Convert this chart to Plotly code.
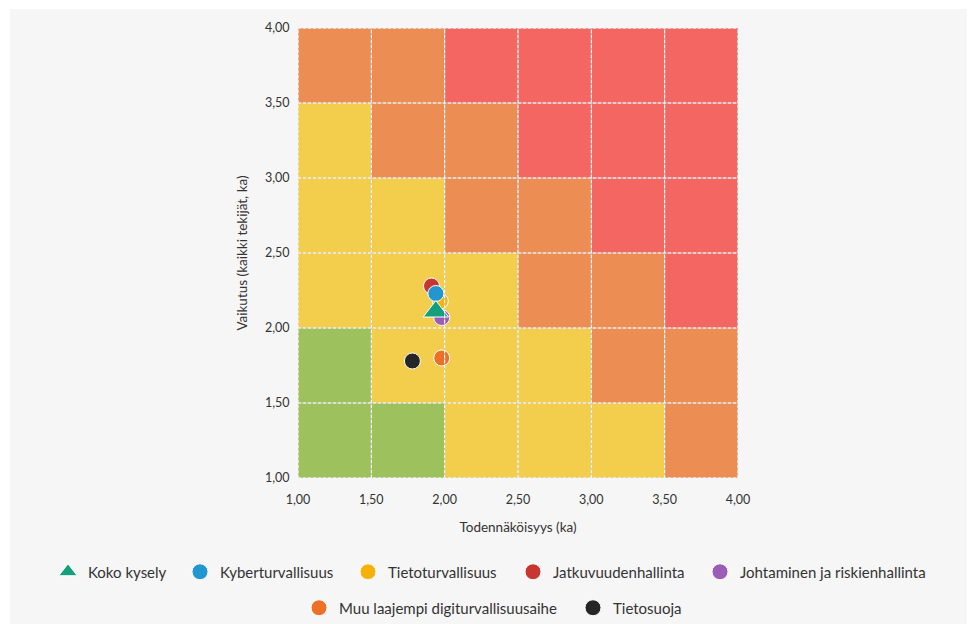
import plotly.graph_objects as go

# Risk matrix: likelihood (x) vs impact (y), averages on a 1-4 scale
categories = [
    "Koko kysely",
    "Kyberturvallisuus",
    "Tietoturvallisuus",
    "Jatkuvuudenhallinta",
    "Johtaminen ja riskienhallinta",
    "Muu laajempi digiturvallisuusaihe",
    "Tietosuoja",
]
likelihood = [1.94, 1.94, 1.97, 1.91, 1.98, 1.98, 1.78]
impact = [2.11, 2.23, 2.18, 2.28, 2.07, 1.80, 1.78]
colors = ["#14a07c", "#2196cf", "#f6b20a", "#c7372f", "#9b5bb8", "#ee6f26", "#262626"]
symbols = ["triangle-up", "circle", "circle", "circle", "circle", "circle", "circle"]

# Cell edges and risk levels (0 = low ... 3 = critical), rows from bottom to top
cell_edges = [1.0, 1.5, 2.0, 2.5, 3.0, 3.5, 4.0]
risk_levels = [
    [0, 0, 1, 1, 1, 2],
    [0, 1, 1, 1, 2, 2],
    [1, 1, 1, 2, 2, 3],
    [1, 1, 2, 2, 3, 3],
    [1, 2, 2, 3, 3, 3],
    [2, 2, 3, 3, 3, 3],
]
level_colors = ["#9dc15c", "#f3ce4d", "#ec8e54", "#f36661"]

# Legend entry anchors: (row, symbol centre in px)
legend_rows = [0, 0, 0, 0, 0, 1, 1]
legend_symbol_px = [68, 200, 368, 533, 720, 319, 593]

W, H = 968, 624
ML, MR, MT, MB = 10, 1, 9, 0
gw, gh = W - ML - MR, H - MT - MB


def px_to_paper_x(px):
    return (px - ML) / gw


def px_to_paper_y(py):
    return (H - MB - py) / gh


colorscale = []
n = len(level_colors)
for i, c in enumerate(level_colors):
    colorscale.append([i / n, c])
    colorscale.append([(i + 1) / n, c])

fig = go.Figure()
fig.add_trace(go.Heatmap(
    x=cell_edges, y=cell_edges, z=risk_levels,
    zmin=0, zmax=3, colorscale=colorscale, showscale=False,
    hoverinfo="skip", showlegend=False,
))

# Draw from last to first so the overall average sits on top
for i in reversed(range(len(categories))):
    fig.add_trace(go.Scatter(
        x=[likelihood[i]], y=[impact[i]], mode="markers", name=categories[i],
        marker=dict(symbol=symbols[i], color=colors[i],
                    size=22 if symbols[i] == "triangle-up" else 16,
                    line=dict(color="white", width=1)),
        legend="legend" if i == 0 else f"legend{i + 1}",
        showlegend=True,
    ))

row_y = [572, 608]
legends = {}
for i in range(len(categories)):
    key = "legend" if i == 0 else f"legend{i + 1}"
    legends[key] = dict(
        x=px_to_paper_x(legend_symbol_px[i] - 20), xanchor="left",
        y=px_to_paper_y(row_y[legend_rows[i]]), yanchor="middle",
        orientation="h", bgcolor="rgba(0,0,0,0)", borderwidth=0,
        font=dict(family="Lato", size=15, color="#333333"),
        itemclick=False, itemdoubleclick=False,
    )

shapes = [dict(type="rect", xref="paper", yref="paper", x0=0, x1=1, y0=0, y1=1,
               fillcolor="#f6f6f6", line=dict(width=0), layer="below")]
for v in cell_edges:
    for base in (True, False):
        line = (dict(color="rgba(205,205,205,0.9)", width=1) if base
                else dict(color="white", width=1, dash="3px,2px"))
        shapes.append(dict(type="line", xref="x", yref="y", x0=v, x1=v, y0=1, y1=4,
                           line=line, layer="above"))
        shapes.append(dict(type="line", xref="x", yref="y", x0=1, x1=4, y0=v, y1=v,
                           line=line, layer="above"))

axis_common = dict(
    range=[1, 4], tickvals=cell_edges, tickformat=".2f", showgrid=False,
    zeroline=False, showline=False, ticks="outside", tickcolor="rgba(0,0,0,0)",
    tickfont=dict(family="Lato", size=12.5, color="#333333"),
)
title_font = dict(family="Lato", size=13.5, color="#333333")

fig.update_layout(
    width=W, height=H,
    margin=dict(l=ML, r=MR, t=MT, b=MB, autoexpand=False),
    paper_bgcolor="white", plot_bgcolor="rgba(0,0,0,0)",
    separators=", ",
    showlegend=True,
    shapes=shapes,
    xaxis=dict(axis_common, domain=[px_to_paper_x(298), px_to_paper_x(738)],
               ticklen=10,
               title=dict(text="Todennäköisyys (ka)", standoff=16, font=title_font)),
    yaxis=dict(axis_common, domain=[px_to_paper_y(478), px_to_paper_y(28)],
               ticklen=5,
               title=dict(text="Vaikutus (kaikki tekijät, ka)", standoff=14, font=title_font)),
    **legends,
)

fig.write_html("out.html")
